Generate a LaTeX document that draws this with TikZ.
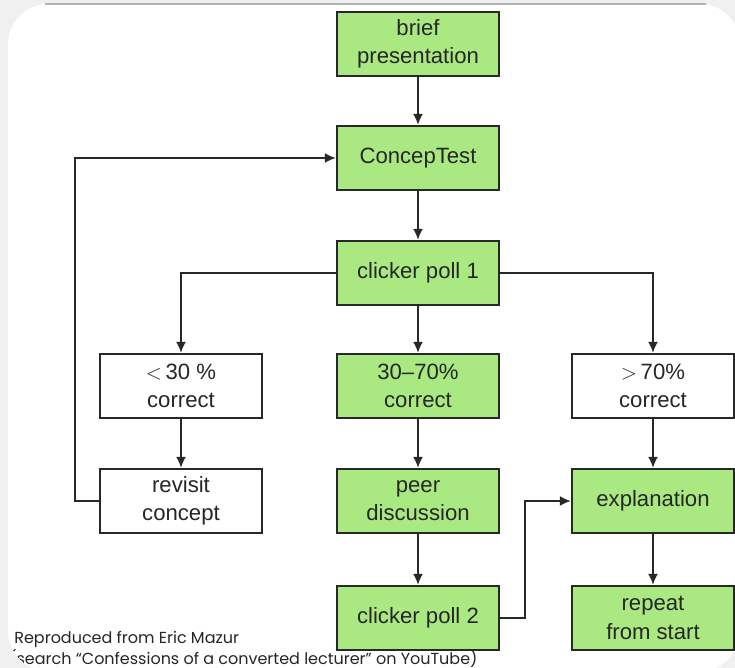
\documentclass[tikz,border=0pt]{standalone}
\usepackage{fontspec}
\setmainfont{Liberation Sans}
\newfontfamily\notefont{Poppins}
\usetikzlibrary{arrows.meta,calc}
\definecolor{BoxClr}{RGB}{170,232,130}
\definecolor{LineClr}{RGB}{40,40,40}
\definecolor{BackClr}{RGB}{240,240,240}

\begin{document}
\begin{tikzpicture}[x=0.02cm,y=-0.02cm,
  box/.style={draw=LineClr,line width=1.3pt,minimum width=3.24cm,minimum height=1.28cm,
    align=center,inner sep=0pt,text=black!85,font=\fontsize{12.6}{16}\selectfont},
  greenbox/.style={box,fill=BoxClr},
  whitebox/.style={box,fill=white},
  link/.style={draw=LineClr,line width=1.1pt,-{Latex[length=2.2mm,width=2mm]}},
  note/.style={anchor=west,inner sep=0pt,text=black!85,font=\notefont\fontsize{9.1}{11}\selectfont}]
\useasboundingbox (0,0) rectangle (735,668);
\fill[BackClr] (0,0) rectangle (735,668);
\begin{scope}
\clip (48,4) arc[start angle=90,end angle=180,radius=0.8cm] -- (8,631)
  arc[start angle=180,end angle=270,radius=0.8cm] -- (700,671)
  arc[start angle=270,end angle=360,radius=0.8cm] -- (740,44)
  arc[start angle=0,end angle=90,radius=0.8cm] -- cycle;
\fill[white] (0,0) rectangle (735,668);

% boxes
\node[greenbox] (brief) at (418,44) {brief\\presentation};
\node[greenbox] (concep) at (418,158) {ConcepTest};
\node[greenbox] (poll1) at (418,273) {clicker poll 1};

\node[whitebox] (low) at (181,386) {$<$\,30 \%\\correct};
\node[greenbox] (mid) at (418,386) {30--70\%\\correct};
\node[whitebox] (high) at (653,386) {$>$\,70\%\\correct};

\node[whitebox] (revisit) at (181,501) {revisit\\concept};
\node[greenbox] (peer) at (418,501) {peer\\discussion};
\node[greenbox] (explain) at (653,501) {explanation};

\node[greenbox] (poll2) at (418,618) {clicker poll 2};
\node[greenbox] (repeat) at (653,618) {repeat\\from start};

% arrows
\draw[link] (brief) -- (concep);
\draw[link] (concep) -- (poll1);
\draw[link] (poll1) -- (mid);
\draw[link] (poll1.west) -| (low);
\draw[link] (poll1.east) -| (high);
\draw[link] (low) -- (revisit);
\draw[link] (mid) -- (peer);
\draw[link] (high) -- (explain);
\draw[link] (peer) -- (poll2);
\draw[link] (explain) -- (repeat);
\draw[link] (revisit.west) -- ++(-24,0) |- (concep.west);
\draw[link] (poll2.east) -- ++(25,0) |- (explain.west);

% credit
\node[note] (src) at (14,639) {Reproduced from Eric Mazur};
\node[note] (hint) at (9,659) {(search “Confessions of a converted lecturer” on YouTube)};
\end{scope}
\draw[gray!60,line width=0.6pt] (45,4) -- (706,4);
\end{tikzpicture}
\end{document}
